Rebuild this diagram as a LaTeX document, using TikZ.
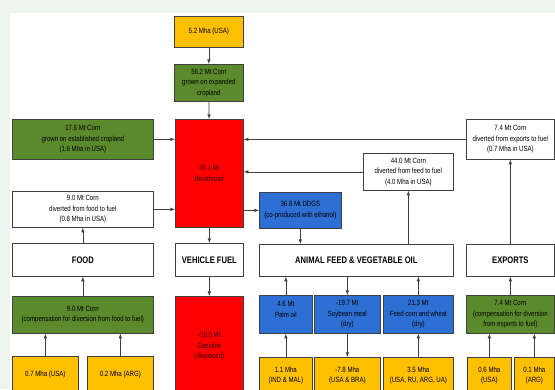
\documentclass[tikz,border=0pt]{standalone}
\usepackage{fontspec}
\setmainfont{Liberation Sans}[FakeStretch=0.8]
\usetikzlibrary{arrows}
\definecolor{edge}{HTML}{404040}
\definecolor{bgtint}{HTML}{EEF4EE}
\definecolor{yel}{HTML}{FFC000}
\definecolor{grn}{HTML}{5B8A2D}
\definecolor{blu}{HTML}{2E6FD3}
\definecolor{rd}{HTML}{FF0000}
\definecolor{rdtext}{HTML}{3A0000}

\begin{document}
\begin{tikzpicture}[x=1pt,y=-1pt,
    box/.style 2 args={draw=edge,line width=0.7pt,anchor=north west,inner sep=1pt,
        minimum width=#1,minimum height=#2,align=center,
        font=\fontsize{7.6}{10.5}\selectfont},
    yelbox/.style={fill=yel},
    grnbox/.style={fill=grn},
    blubox/.style={fill=blu},
    redbox/.style={fill=rd,text=rdtext},
    headbox/.style={fill=white,font=\fontsize{9.5}{11}\bfseries},
    arr/.style={-latex,draw=edge,line width=0.6pt}]
    \useasboundingbox (0,0) rectangle (555,389);
    \clip (0,0) rectangle (555,389);
    \fill[bgtint] (0,0) rectangle (555,389);
    \fill[white] (10,13) rectangle (555,389);

    % top column
    \node[box={69}{31},yelbox] (mhaus) at (174,16) {5.2 Mha (USA)};
    \node[box={69}{37},grnbox] (expand) at (174,64) {56.2 Mt Corn\\grown on expanded\\cropland};
    \node[box={68}{108},redbox] (bioeth) at (175,119) {45.1 Mt\\Bioethanol};
    \node[box={68}{33},headbox] (fuel) at (175,243) {VEHICLE FUEL};
    \node[box={68}{100},redbox] (gasol) at (175,296) {-28.0 Mt\\Gasoline\\(displaced)};

    % food
    \node[box={141}{40},grnbox] (estab) at (12,119) {17.6 Mt Corn\\grown on established cropland\\(1.6 Mha in USA)};
    \node[box={141}{36},fill=white] (divfood) at (12,191) {9.0 Mt Corn\\diverted from food to fuel\\(0.8 Mha in USA)};
    \node[box={141}{33},headbox] (food) at (12,243) {FOOD};
    \node[box={141}{37},grnbox] (compfood) at (12,296) {9.0 Mt Corn\\(compensation for diversion from food to fuel)};
    \node[box={66}{36},yelbox] (landusf) at (12,356) {0.7 Mha (USA)};
    \node[box={66}{36},yelbox] (landargf) at (87,356) {0.2 Mha (ARG)};

    % feed and oil
    \node[box={82}{36},blubox] (ddgs) at (259,192) {36.8 Mt DDGS\\(co-produced with ethanol)};
    \node[box={90}{37},fill=white] (divfeed) at (363,153) {44.0 Mt Corn\\diverted from feed to fuel\\(4.0 Mha in USA)};
    \node[box={194}{32},headbox] (feed) at (259,244) {ANIMAL FEED \& VEGETABLE OIL};
    \node[box={53}{38},blubox] (palm) at (259,295) {4.6 Mt\\Palm oil\\~};
    \node[box={66}{38},blubox] (soy) at (314,295) {-19.7 Mt\\Soybean meal\\(dry)};
    \node[box={70}{38},blubox] (grain) at (383,295) {21.3 Mt\\Feed corn and wheat\\(dry)};
    \node[box={53}{36},yelbox] (landind) at (259,357) {1.1 Mha\\(IND \& MAL)};
    \node[box={66}{36},yelbox] (landbra) at (314,357) {-7.8 Mha\\(USA \& BRA)};
    \node[box={70}{36},yelbox] (landru) at (383,357) {3.5 Mha\\(USA, RU, ARG, UA)};

    % exports
    \node[box={88}{40},fill=white] (divexp) at (466,119) {7.4 Mt Corn\\diverted from exports to fuel\\(0.7 Mha in USA)};
    \node[box={88}{32},headbox] (exports) at (466,244) {EXPORTS};
    \node[box={88}{38},grnbox] (compexp) at (466,295) {7.4 Mt Corn\\(compensation for diversion\\from exports to fuel)};
    \node[box={44}{36},yelbox] (landuse) at (467,357) {0.6 Mha\\(USA)};
    \node[box={40}{36},yelbox] (landarge) at (514,357) {0.1 Mha\\(ARG)};

    % flows into bioethanol
    \draw[arr] (mhaus) -- (expand);
    \draw[arr] (expand) -- (bioeth);
    \draw[arr] (estab) -- (estab -| bioeth.west);
    \draw[arr] (divfood) -- (divfood -| bioeth.west);
    \draw[arr] (divexp) -- (divexp -| bioeth.east);
    \draw[arr] (divfeed) -- (divfeed -| bioeth.east);
    \draw[arr] (ddgs -| bioeth.east) -- (ddgs);
    \draw[arr] (bioeth) -- (fuel);
    \draw[arr] (fuel) -- (gasol);
    \draw[arr] (ddgs) -- (ddgs |- feed.north);
    \draw[arr] (divfeed |- feed.north) -- (divfeed);
    \draw[arr] (exports) -- (divexp);
    \draw[arr] (food) -- (divfood);
    \draw[arr] (compfood) -- (food);
    \draw[arr] (compexp) -- (exports);
    \draw[arr] (feed.south -| soy) -- (soy);
    \draw[arr] (soy) -- (landbra);

    % upward flows from the bottom rows
    \foreach \a/\b in {landusf/compfood,landargf/compfood,palm/feed,landind/palm,
        grain/feed,landru/grain,landuse/compexp,landarge/compexp} {
        \draw[arr] (\a.north) -- (\a.north |- \b.south);
    }
\end{tikzpicture}
\end{document}
